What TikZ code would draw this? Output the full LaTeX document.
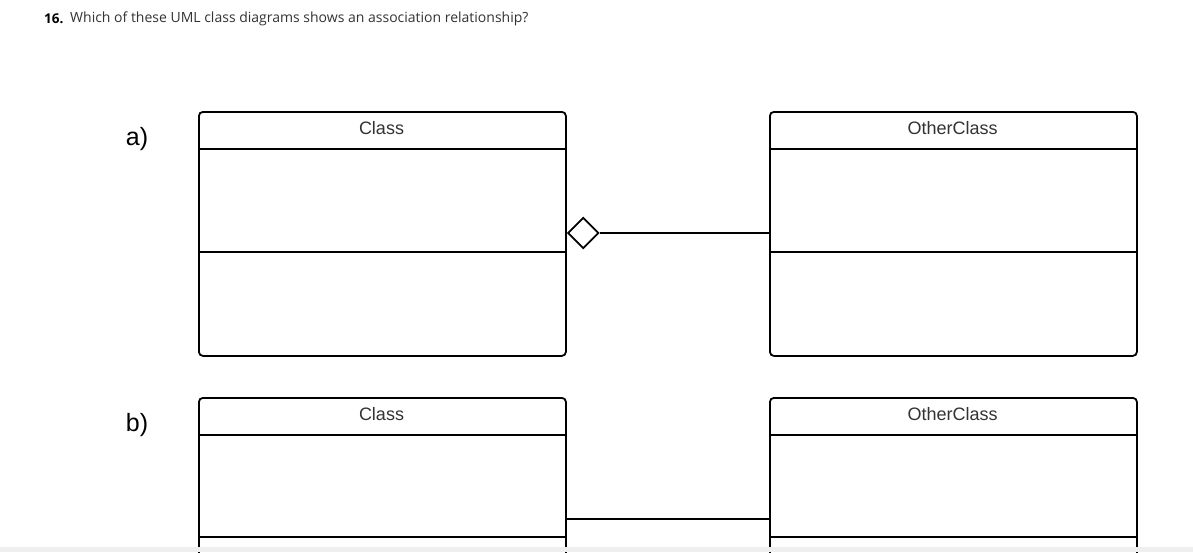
\documentclass[tikz,border=0pt]{standalone}
\usepackage{xcolor}
\usepackage{fontspec}
\setmainfont{Liberation Sans}
\newfontfamily\qfont{Open Sans}
\usepackage{tikz}
\usetikzlibrary{shapes.geometric}
\definecolor{textgray}{HTML}{333333}
\definecolor{bandgray}{HTML}{EFEFEF}

\begin{document}
\begin{tikzpicture}[x=1pt,y=-1pt,
    classbox/.style={draw,line width=1.8pt,rounded corners=4pt,minimum width=367pt,minimum height=244pt,anchor=north west,inner sep=0pt},
    classname/.style={font=\fontsize{18}{21}\selectfont,text=textgray},
    part/.style={line width=1.8pt},
    assoc/.style={line width=1.8pt},
    agg/.style={diamond,draw,fill=white,line width=1.8pt,minimum width=31pt,minimum height=31pt,inner sep=0pt,anchor=west},
    letter/.style={font=\fontsize{25}{28}\selectfont}]
    \useasboundingbox (0,0) rectangle (1193,552);
    \clip (0,0) rectangle (1193,552);
    \fill[white] (0,0) rectangle (1193,552);
    \node[anchor=base west,inner sep=0pt,font=\qfont\fontsize{13.5}{16}\selectfont\bfseries] (num) at (44,23) {16.};
    \node[anchor=base west,inner sep=0pt,font=\qfont\fontsize{14}{16}\selectfont,text=textgray] (question) at (70,22) {Which of these UML class diagrams shows an association relationship?};
    % a)
    \node[letter] (la) at (137,139) {a)};
    \node[classbox] (a1) at (198,111) {};
    \node[classbox] (a2) at (769,111) {};
    \node[classname] (a1name) at (381.5,128) {Class};
    \node[classname] (a2name) at (952.5,128) {OtherClass};
    \draw[part] (a1.west |- 0,149) -- (a1.east |- 0,149);
    \draw[part] (a1.west |- 0,252) -- (a1.east |- 0,252);
    \draw[part] (a2.west |- 0,149) -- (a2.east |- 0,149);
    \draw[part] (a2.west |- 0,252) -- (a2.east |- 0,252);
    \node[agg] (dia) at (a1.east |- 0,233) {};
    \draw[assoc] (dia.east) -- (a2.west |- dia.east);
    % b)
    \node[letter] (lb) at (137,425) {b)};
    \node[classbox] (b1) at (198,397) {};
    \node[classbox] (b2) at (769,397) {};
    \node[classname] (b1name) at (381.5,414) {Class};
    \node[classname] (b2name) at (952.5,414) {OtherClass};
    \draw[part] (b1.west |- 0,435) -- (b1.east |- 0,435);
    \draw[part] (b1.west |- 0,537) -- (b1.east |- 0,537);
    \draw[part] (b2.west |- 0,435) -- (b2.east |- 0,435);
    \draw[part] (b2.west |- 0,537) -- (b2.east |- 0,537);
    \draw[assoc] (b1.east |- 0,519) -- (b2.west |- 0,519);
    \fill[bandgray] (0,547) rectangle (1193,552);
  \end{tikzpicture}
\end{document}
